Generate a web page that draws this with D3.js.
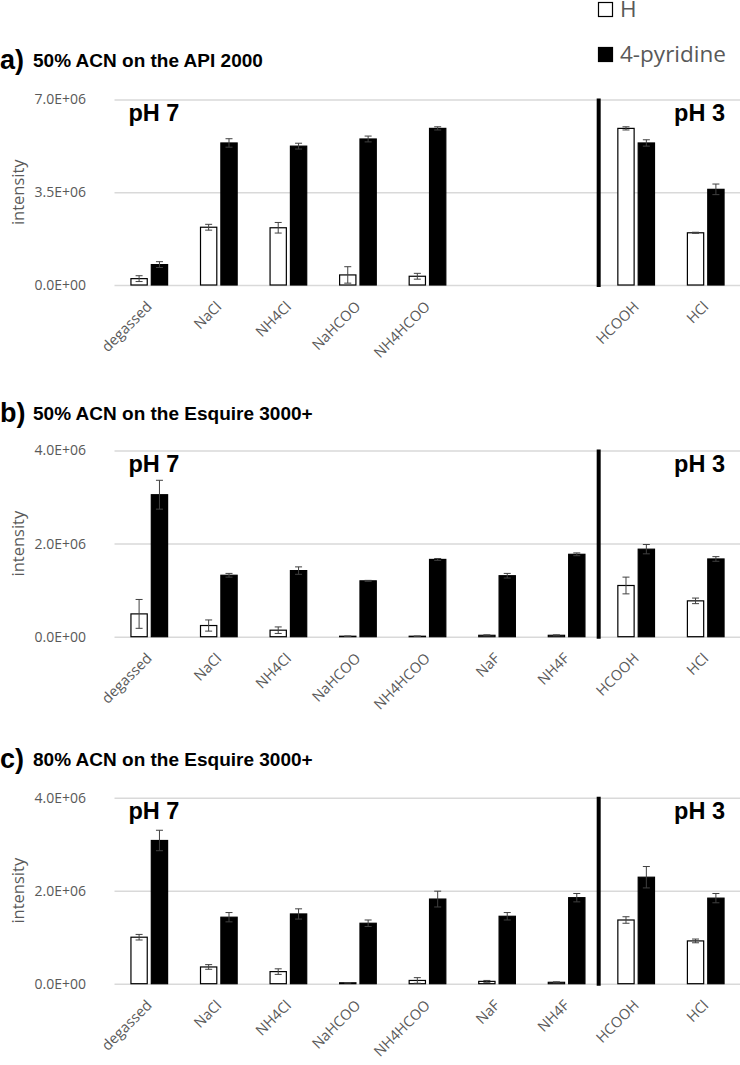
<!DOCTYPE html>
<html>
<head>
<meta charset="utf-8">
<script src="https://cdn.jsdelivr.net/npm/d3@7"></script>
<style>
  html, body { margin: 0; padding: 0; background: #fff; }
  svg { display: block; }
</style>
</head>
<body>
<svg id="chart" width="740" height="1065"></svg>
<script>
// ---------- data (values in units of 1e6 counts) ----------
const categories = ["degassed", "NaCl", "NH4Cl", "NaHCOO", "NH4HCOO", "NaF", "NH4F", "HCOOH", "HCl"];
const seriesNames = ["H", "4-pyridine"];

// panel a) 50% ACN on the API 2000 (NaF / NH4F not measured)
const panelA_H      = [0.24, 2.18, 2.16, 0.38, 0.33, null, null, 5.91, 1.97];
const panelA_H_err  = [0.11, 0.11, 0.20, 0.31, 0.11, null, null, 0.06, 0.02];
const panelA_P      = [0.77, 5.36, 5.24, 5.51, 5.91, null, null, 5.36, 3.61];
const panelA_P_err  = [0.11, 0.16, 0.11, 0.11, 0.06, null, null, 0.12, 0.20];

// panel b) 50% ACN on the Esquire 3000+
const panelB_H      = [0.49, 0.24, 0.14, 0.01, 0.01, 0.03, 0.03, 1.10, 0.77];
const panelB_H_err  = [0.31, 0.12, 0.07, 0.005, 0.005, 0.01, 0.01, 0.18, 0.06];
const panelB_P      = [3.05, 1.32, 1.42, 1.20, 1.66, 1.31, 1.77, 1.88, 1.67];
const panelB_P_err  = [0.31, 0.04, 0.08, 0.01, 0.02, 0.05, 0.03, 0.10, 0.05];

// panel c) 80% ACN on the Esquire 3000+
const panelC_H      = [1.00, 0.36, 0.26, 0.02, 0.07, 0.05, 0.03, 1.37, 0.92];
const panelC_H_err  = [0.06, 0.05, 0.06, 0.005, 0.06, 0.02, 0.01, 0.07, 0.04];
const panelC_P      = [3.08, 1.43, 1.50, 1.30, 1.82, 1.45, 1.85, 2.29, 1.84];
const panelC_P_err  = [0.22, 0.10, 0.11, 0.07, 0.17, 0.08, 0.09, 0.23, 0.10];

const yTicksA = [0, 3.5, 7.0];
const yTickLabelsA = ["0.0E+00", "3.5E+06", "7.0E+06"];
const yTicksBC = [0, 2.0, 4.0];
const yTickLabelsBC = ["0.0E+00", "2.0E+06", "4.0E+06"];

const panelLetters = ["a)", "b)", "c)"];
const panelTitles = ["50% ACN on the API 2000", "50% ACN on the Esquire 3000+", "80% ACN on the Esquire 3000+"];
const phLabels = ["pH 7", "pH 3"];
const yAxisTitle = "intensity";

// ---------- layout ----------
const svg = d3.select("#chart");
const plotLeft = 114.5, plotRight = 740.5;
const axisFont = "'Open Sans', 'DejaVu Sans', sans-serif";
const boldFont = "'Liberation Sans', Arial, sans-serif";
const grey = "#595959";

const panels = [
  { H: panelA_H, He: panelA_H_err, P: panelA_P, Pe: panelA_P_err, max: 7.0, ticks: yTicksA, tickLabels: yTickLabelsA, top: 99.5, bottom: 285, titleY: 67 },
  { H: panelB_H, He: panelB_H_err, P: panelB_P, Pe: panelB_P_err, max: 4.0, ticks: yTicksBC, tickLabels: yTickLabelsBC, top: 450.5, bottom: 636.7, titleY: 420 },
  { H: panelC_H, He: panelC_H_err, P: panelC_P, Pe: panelC_P_err, max: 4.0, ticks: yTicksBC, tickLabels: yTickLabelsBC, top: 797.7, bottom: 983.7, titleY: 766 }
];

const padIn = 0.473;
const x = d3.scaleBand().domain(categories).range([plotLeft, plotRight]).paddingInner(padIn).paddingOuter(padIn / 2);
const x1 = d3.scaleBand().domain(seriesNames).range([0, x.bandwidth()]).paddingInner(0.2);

panels.forEach((p, pi) => {
  const g = svg.append("g");
  const y = d3.scaleLinear().domain([0, p.max]).range([p.bottom, p.top]);

  // title
  g.append("text").attr("x", 0).attr("y", p.titleY + 2)
    .attr("font-family", boldFont).attr("font-weight", "bold").attr("font-size", 27)
    .attr("fill", "#000").text(panelLetters[pi]);
  g.append("text").attr("x", 33).attr("y", p.titleY)
    .attr("font-family", boldFont).attr("font-weight", "bold").attr("font-size", 19)
    .attr("fill", "#000").text(panelTitles[pi]);

  // y axis with grid lines
  const yAxis = d3.axisLeft(y)
    .tickValues(p.ticks)
    .tickFormat((d, i) => p.tickLabels[i])
    .tickSizeInner(-(plotRight - plotLeft))
    .tickSizeOuter(0)
    .tickPadding(28.5);
  const ya = g.append("g").attr("transform", `translate(${plotLeft},0)`).call(yAxis);
  ya.attr("font-size", null).attr("font-family", null);
  ya.select(".domain").remove();
  ya.selectAll(".tick line").attr("stroke", "#d9d9d9").attr("stroke-width", 1.5);
  ya.selectAll(".tick text").style("font-family", axisFont).style("font-size", "14px").attr("fill", grey);

  // y axis title
  g.append("text")
    .attr("transform", `translate(24,${(p.top + p.bottom) / 2}) rotate(-90)`)
    .attr("text-anchor", "middle")
    .style("font-family", axisFont).style("font-size", "16.5px").attr("fill", grey)
    .text(yAxisTitle);

  // x axis labels
  const shown = categories.filter((c, i) => p.H[i] !== null);
  const xAxis = d3.axisBottom(x).tickValues(shown).tickSize(0).tickPadding(0);
  const xa = g.append("g").attr("transform", `translate(0,${p.bottom})`).call(xAxis);
  xa.attr("font-size", null).attr("font-family", null);
  xa.select(".domain").remove();
  xa.selectAll(".tick text")
    .style("font-family", axisFont).style("font-size", "14.5px").attr("fill", grey)
    .attr("text-anchor", "end")
    .attr("dy", "0.35em")
    .attr("y", 0).attr("x", 0)
    .attr("transform", "translate(0,19) rotate(-45)");

  // bars
  const rows = categories.map((c, i) => ({ c, vals: [
    { s: "H", v: p.H[i], e: p.He[i] },
    { s: "4-pyridine", v: p.P[i], e: p.Pe[i] }
  ]})).filter(r => r.vals[0].v !== null);

  const grp = g.selectAll(".grp").data(rows).join("g")
    .attr("class", "grp")
    .attr("transform", d => `translate(${x(d.c)},0)`);

  grp.selectAll("rect").data(d => d.vals).join("rect")
    .attr("x", d => x1(d.s))
    .attr("y", d => y(d.v))
    .attr("width", x1.bandwidth())
    .attr("height", d => Math.max(0, y(0) - y(d.v)))
    .attr("fill", d => d.s === "H" ? "#fff" : "#000")
    .attr("stroke", "#000")
    .attr("stroke-width", 1.2);

  // error bars
  const eb = grp.selectAll(".eb").data(d => d.vals).join("g").attr("class", "eb")
    .attr("stroke", "#404040").attr("stroke-width", 1);
  eb.append("line")
    .attr("x1", d => x1(d.s) + x1.bandwidth() / 2).attr("x2", d => x1(d.s) + x1.bandwidth() / 2)
    .attr("y1", d => y(d.v - d.e)).attr("y2", d => y(d.v + d.e));
  eb.append("line")
    .attr("x1", d => x1(d.s) + x1.bandwidth() / 2 - 3.5).attr("x2", d => x1(d.s) + x1.bandwidth() / 2 + 3.5)
    .attr("y1", d => y(d.v + d.e)).attr("y2", d => y(d.v + d.e));
  eb.append("line")
    .attr("x1", d => x1(d.s) + x1.bandwidth() / 2 - 3.5).attr("x2", d => x1(d.s) + x1.bandwidth() / 2 + 3.5)
    .attr("y1", d => y(d.v - d.e)).attr("y2", d => y(d.v - d.e));

  // divider between pH 7 and pH 3 groups
  const divX = plotLeft + x.step() * categories.indexOf("HCOOH") - 2.7;
  g.append("line")
    .attr("x1", divX).attr("x2", divX)
    .attr("y1", p.top - 1).attr("y2", p.bottom + 2)
    .attr("stroke", "#000").attr("stroke-width", 4);

  // pH labels
  g.append("text").attr("x", 128.5).attr("y", p.top + 21.5)
    .attr("font-family", boldFont).attr("font-weight", "bold").attr("font-size", 23.5)
    .attr("fill", "#000").text(phLabels[0]);
  g.append("text").attr("x", 725).attr("y", p.top + 21.5).attr("text-anchor", "end")
    .attr("font-family", boldFont).attr("font-weight", "bold").attr("font-size", 23.5)
    .attr("fill", "#000").text(phLabels[1]);
});

// legend
const legend = svg.append("g");
const legendRows = seriesNames.map((s, i) => ({ s, i }));
legend.selectAll("rect").data(legendRows).join("rect")
  .attr("x", 598.5).attr("y", d => 2.5 + d.i * 45)
  .attr("width", 14).attr("height", 14)
  .attr("fill", d => d.s === "H" ? "#fff" : "#000")
  .attr("stroke", "#000").attr("stroke-width", 1.2);
legend.selectAll("text").data(legendRows).join("text")
  .attr("x", 620).attr("y", d => 17 + d.i * 45.3)
  .style("font-family", axisFont).style("font-size", "22.5px").attr("fill", grey)
  .text(d => d.s);
</script>
</body>
</html>
